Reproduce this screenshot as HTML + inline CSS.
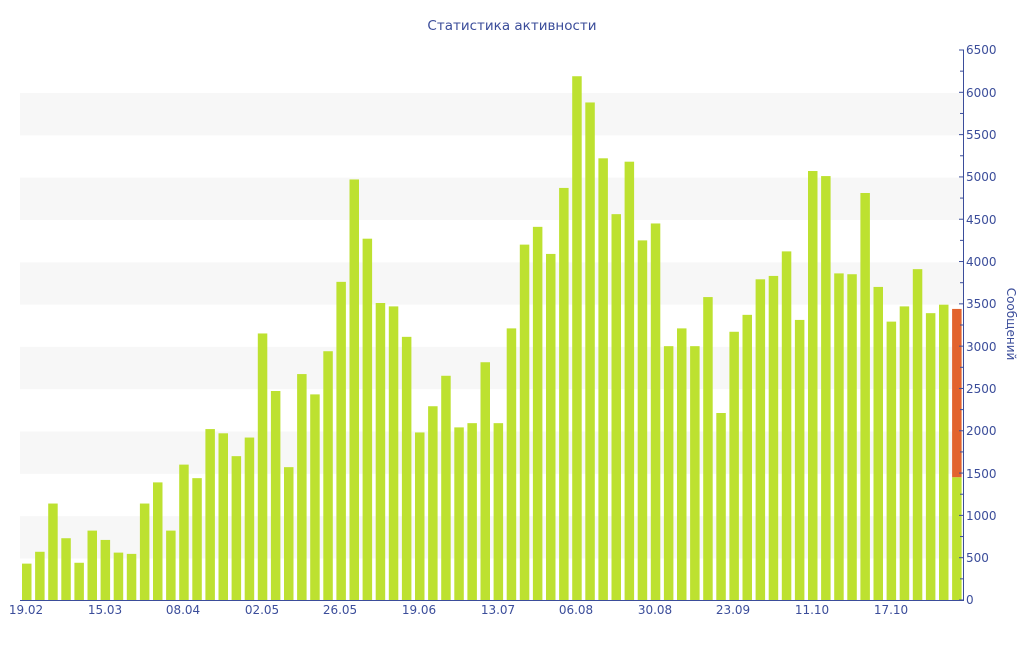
<!DOCTYPE html>
<html><head><meta charset="utf-8"><style>
body{margin:0;background:#fff}
svg text{font-family:"DejaVu Sans","Liberation Sans",sans-serif;fill:#3b4d9a;font-size:12px}
</style></head><body>
<svg id="s" width="1024" height="640" xmlns="http://www.w3.org/2000/svg">
<g fill="#f7f7f7">
<rect x="20" y="93" width="943" height="42.3"/>
<rect x="20" y="177.7" width="943" height="42.3"/>
<rect x="20" y="262.3" width="943" height="42.3"/>
<rect x="20" y="346.9" width="943" height="42.3"/>
<rect x="20" y="431.5" width="943" height="42.3"/>
<rect x="20" y="516.2" width="943" height="42.3"/>
</g>
<g id="bars"></g>
<line x1="20" y1="600.5" x2="964" y2="600.5" stroke="#3b4d9a"/>
<line x1="963.5" y1="50" x2="963.5" y2="601" stroke="#3b4d9a"/>
<g id="ticks" stroke="#3b4d9a"></g>
<text x="512" y="30" text-anchor="middle" style="font-size:13.5px">Статистика активности</text>
<g>
<text x="966" y="54">6500</text>
<text x="966" y="97">6000</text>
<text x="966" y="139">5500</text>
<text x="966" y="181">5000</text>
<text x="966" y="224">4500</text>
<text x="966" y="266">4000</text>
<text x="966" y="308">3500</text>
<text x="966" y="351">3000</text>
<text x="966" y="393">2500</text>
<text x="966" y="435">2000</text>
<text x="966" y="478">1500</text>
<text x="966" y="520">1000</text>
<text x="966" y="562">500</text>
<text x="966" y="604">0</text>
</g>
<text transform="translate(1007,324) rotate(90)" text-anchor="middle">Сообщений</text>
<g text-anchor="middle">
<text x="26" y="614">19.02</text>
<text x="105" y="614">15.03</text>
<text x="183" y="614">08.04</text>
<text x="262" y="614">02.05</text>
<text x="340" y="614">26.05</text>
<text x="419" y="614">19.06</text>
<text x="498" y="614">13.07</text>
<text x="576" y="614">06.08</text>
<text x="655" y="614">30.08</text>
<text x="733" y="614">23.09</text>
<text x="812" y="614">11.10</text>
<text x="891" y="614">17.10</text>
</g>
</svg>
<script>
var v=[430,570,1140,730,440,820,710,560,545,1140,1390,820,1600,1440,2020,1970,1700,1920,3150,2470,1570,2670,2430,2940,3760,4970,4270,3510,3470,3110,1980,2290,2650,2040,2090,2810,2090,3210,4200,4410,4090,4870,6190,5880,5220,4560,5180,4250,4450,3000,3210,3000,3580,2210,3170,3370,3790,3830,4120,3310,5070,5010,3860,3850,4810,3700,3290,3470,3910,3390,3490,3440];
var k=550/6500,h='';
v.forEach(function(d,i){var x=22+13.1*i,t=600-d*k;
if(i==71){var m=600-1450*k;h+='<rect x="'+x+'" y="'+t+'" width="9.5" height="'+(m-t)+'" fill="#e2632e"/><rect x="'+x+'" y="'+m+'" width="9.5" height="'+(600-m)+'" fill="#bde130"/>';}
else h+='<rect x="'+x+'" y="'+t+'" width="9.5" height="'+(600-t)+'" fill="#bde130"/>';});
document.getElementById('bars').innerHTML=h;
var g='';for(var i=0;i<=26;i++){var y=600-i*250*k;g+='<line x1="'+(i%2?960:959)+'" x2="964" y1="'+y+'" y2="'+y+'"/>';}
document.getElementById('ticks').innerHTML=g;
</script>
</body></html>
